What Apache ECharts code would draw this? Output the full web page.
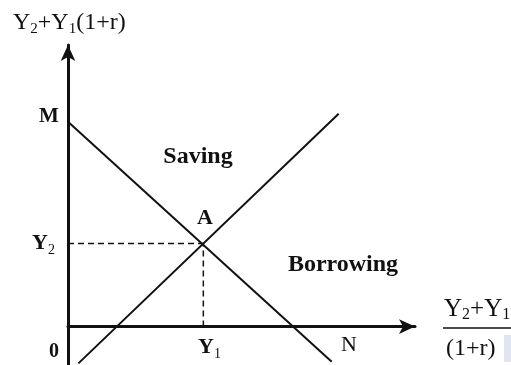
<!DOCTYPE html>
<html>
<head>
<meta charset="utf-8">
<title>Saving and borrowing</title>
<script src="https://cdn.jsdelivr.net/npm/echarts@6/dist/echarts.min.js"></script>
<style>
  html, body { margin: 0; padding: 0; background: #fff; }
  #chart { width: 511px; height: 365px; }
</style>
</head>
<body>
<div id="chart"></div>
<script>
// lines of the diagram, in axis units (origin = 0)
const budgetLine = [[0, 6.4], [7.6, -1.1]]     // M -> N
const risingLine = [[0.3, -1.15], [7.8, 6.65]]
const pointA = [3.9, 2.6]
const dashY2 = [[0, pointA[1]], pointA]
const dashY1 = [[pointA[0], 0], pointA]

const serif = '"Liberation Serif", "Times New Roman", serif'
const sub = (size) => ({ fontSize: size, fontFamily: serif, verticalAlign: 'bottom', lineHeight: 28 })
const main = (size, weight) => ({ fontSize: size, fontFamily: serif, fontWeight: weight, lineHeight: 24 })

const chart = echarts.init(document.getElementById('chart'), null, { renderer: 'canvas' })

const lineSeries = (data, width, type) => ({
  type: 'line',
  data: data,
  symbol: 'none',
  silent: true,
  animation: false,
  lineStyle: { color: '#111', width: width, type: type || 'solid' },
})

const text = (x, y, str, size, weight, align) => ({
  type: 'text',
  silent: true,
  style: {
    x: x,
    y: y,
    text: str,
    align: align || 'center',
    verticalAlign: 'middle',
    fill: '#111',
    fontSize: size,
    fontFamily: serif,
    fontWeight: weight || 'normal',
    rich: {
      m: main(size, weight || 'normal'),
      s: sub(Math.round(size * 0.62)),
    },
  },
})

chart.setOption({
  animation: false,
  grid: { left: 68, top: 45, width: 347, height: 320 },
  xAxis: {
    type: 'value',
    min: 0,
    max: 10,
    axisLine: {
      show: true,
      onZero: true,
      symbol: ['none', 'arrow'],
      symbolSize: [11, 16],
      lineStyle: { color: '#111', width: 3 },
    },
    axisTick: { show: false },
    axisLabel: { show: false },
    splitLine: { show: false },
  },
  yAxis: {
    type: 'value',
    min: -1.2,
    max: 8.8,
    axisLine: {
      show: true,
      onZero: false,
      symbol: ['none', 'arrow'],
      symbolSize: [11, 16],
      lineStyle: { color: '#111', width: 3 },
    },
    axisTick: { show: false },
    axisLabel: { show: false },
    splitLine: { show: false },
  },
  series: [
    lineSeries(budgetLine, 2),
    lineSeries(risingLine, 2),
    lineSeries(dashY2, 1.5, [6, 4]),
    lineSeries(dashY1, 1.5, [6, 4]),
  ],
  graphic: [
    text(13, 23, '{m|Y}{s|2}{m|+Y}{s|1}{m|(1+r)}', 24, 'normal', 'left'),
    text(49, 117, 'M', 21, 'bold'),
    text(198, 157, 'Saving', 24, 'bold'),
    text(205, 218, 'A', 22, 'bold'),
    text(32, 243, '{m|Y}{s|2}', 22, 'bold', 'left'),
    text(343, 265, 'Borrowing', 24, 'bold'),
    text(54, 352, '0', 20, 'bold'),
    text(198, 347, '{m|Y}{s|1}', 22, 'bold', 'left'),
    text(349, 345, 'N', 22),
    text(444, 309, '{m|Y}{s|2}{m|+Y}{s|1}', 25, 'normal', 'left'),
    {
      type: 'line',
      silent: true,
      shape: { x1: 443, y1: 328, x2: 511, y2: 328 },
      style: { stroke: '#111', lineWidth: 1.5 },
    },
    text(446, 349, '(1+r)', 24, 'normal', 'left'),
    {
      type: 'rect',
      silent: true,
      shape: { x: 504, y: 335, width: 7, height: 27 },
      style: { fill: '#dfe6f1' },
    },
  ],
})

window.addEventListener('resize', () => chart.resize())
</script>
</body>
</html>
